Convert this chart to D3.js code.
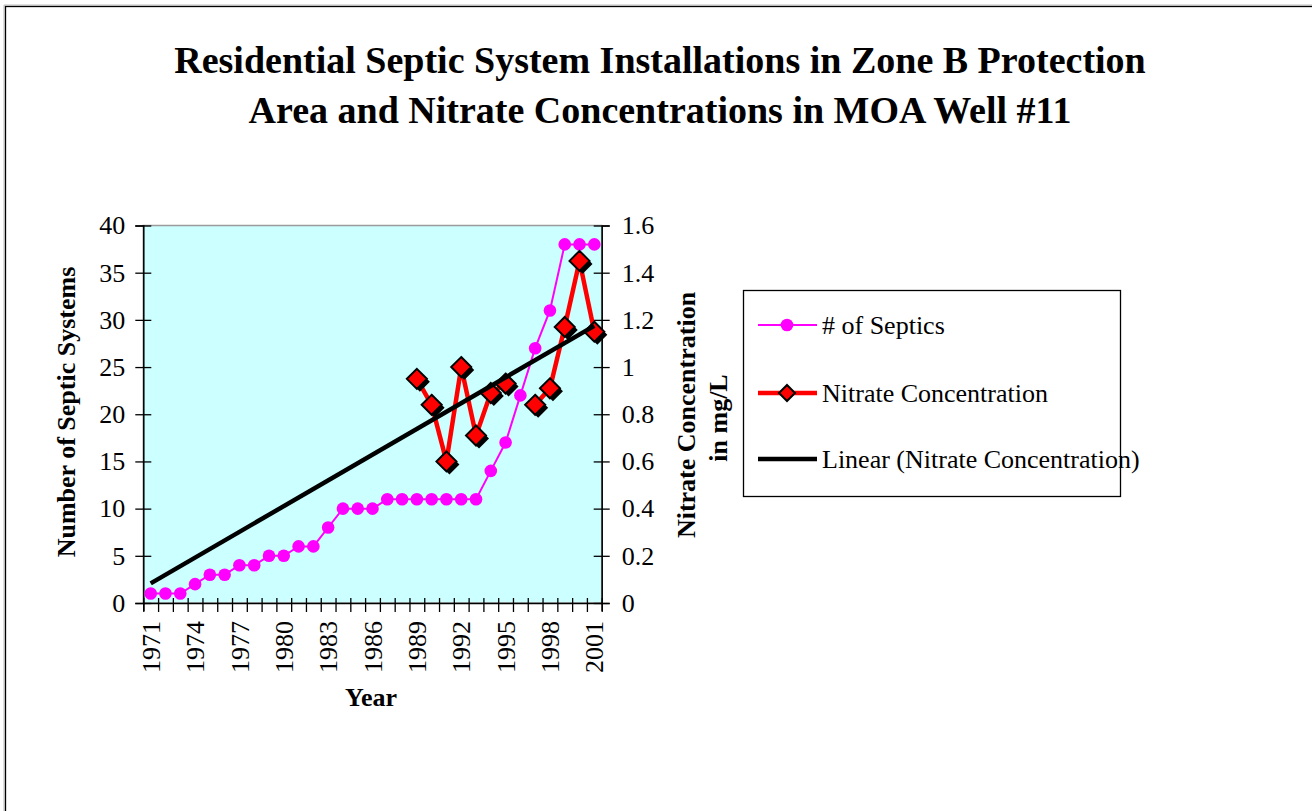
<!DOCTYPE html>
<html>
<head>
<meta charset="utf-8">
<script src="https://cdn.jsdelivr.net/npm/d3@7"></script>
<style>
  html, body { margin: 0; padding: 0; background: #ffffff; }
  svg { display: block; }
  text { font-family: "Liberation Serif", "Times New Roman", serif; fill: #000; }
</style>
</head>
<body>
<svg id="chart" width="1312" height="811"></svg>
<script>
// ---------------- data ----------------
const years = [1971,1972,1973,1974,1975,1976,1977,1978,1979,1980,1981,1982,1983,1984,1985,1986,
               1987,1988,1989,1990,1991,1992,1993,1994,1995,1996,1997,1998,1999,2000,2001];
const septics = [1,1,1,2,3,3,4,4,5,5,6,6,8,10,10,10,11,11,11,11,11,11,11,14,17,22,27,31,38,38,38];
const nitrate = [null,null,null,null,null,null,null,null,null,null,null,null,null,null,null,null,null,null,
                 0.95,0.84,0.60,1.00,0.71,0.89,0.93,null,0.84,0.91,1.17,1.45,1.15];
const yearLabels = [1971,1974,1977,1980,1983,1986,1989,1992,1995,1998,2001];
const leftTicks = [0,5,10,15,20,25,30,35,40];
const rightTicks = [0,0.2,0.4,0.6,0.8,1.0,1.2,1.4,1.6];
const titleLines = ["Residential Septic System Installations in Zone B Protection",
                    "Area and Nitrate Concentrations in MOA Well #11"];
const legendItems = ["# of Septics", "Nitrate Concentration", "Linear (Nitrate Concentration)"];

// ---------------- layout ----------------
const svg = d3.select("#chart");
const plot = {left: 143.3, right: 601.7, top: 225.5, bottom: 603};

// outer chart border
svg.append("line").attr("x1", 4).attr("x2", 4).attr("y1", 5).attr("y2", 811).attr("stroke", "#bbb").attr("stroke-width", 1);
svg.append("line").attr("x1", 4).attr("x2", 1312).attr("y1", 5).attr("y2", 5).attr("stroke", "#bbb").attr("stroke-width", 1);
svg.append("rect").attr("x", 5.5).attr("y", 6.5).attr("width", 1400).attr("height", 900)
   .attr("fill", "none").attr("stroke", "#000").attr("stroke-width", 1.3);

// title
svg.append("g").selectAll("text").data(titleLines).join("text")
   .attr("x", 660).attr("y", (d, i) => 73 + i * 50)
   .attr("text-anchor", "middle").attr("font-size", 38).attr("font-weight", "bold")
   .text(d => d);

const x = d3.scaleBand().domain(years).range([plot.left, plot.right]).padding(0);
const xc = d => x(d) + x.bandwidth() / 2;
const xIdx = d3.scaleLinear().domain([0, years.length]).range([plot.left, plot.right]);
const yL = d3.scaleLinear().domain([0, 40]).range([plot.bottom, plot.top]);
const yR = d3.scaleLinear().domain([0, 1.6]).range([plot.bottom, plot.top]);

// plot area
svg.append("rect").attr("x", plot.left).attr("y", plot.top)
   .attr("width", plot.right - plot.left).attr("height", plot.bottom - plot.top)
   .attr("fill", "#CCFFFF").attr("stroke", "#9a9a9a").attr("stroke-width", 1.5);

// axes
const axL = svg.append("g").attr("transform", `translate(${plot.left},0)`)
   .call(d3.axisLeft(yL).tickValues(leftTicks).tickSize(8).tickPadding(10).tickFormat(d3.format("d")));
const axR = svg.append("g").attr("transform", `translate(${plot.right},0)`)
   .call(d3.axisRight(yR).tickValues(rightTicks).tickSize(8).tickPadding(12)
         .tickFormat(d => d === 0 ? "0" : (d === 1 ? "1" : d3.format(".1f")(d))));
const axB = svg.append("g").attr("transform", `translate(0,${plot.bottom})`)
   .call(d3.axisBottom(xIdx).tickValues(d3.range(0, years.length + 1)).tickSize(8).tickFormat(""));

[axL, axR, axB].forEach(a => {
  a.select(".domain").attr("stroke", "#000").attr("stroke-width", 1.5);
  a.selectAll(".tick line").attr("stroke", "#000").attr("stroke-width", 1.3);
  a.selectAll(".tick text").attr("font-size", 26).attr("font-family", "Liberation Serif");
});
axL.selectAll(".tick line").attr("x2", -8).attr("x1", 8);
axR.selectAll(".tick line").attr("x1", -8).attr("x2", 8);
axB.selectAll(".tick line").attr("y1", -5).attr("y2", 9);

// year labels (rotated)
svg.append("g").selectAll("text").data(yearLabels).join("text")
   .attr("transform", d => `translate(${xc(d)},${plot.bottom + 18}) rotate(-90)`)
   .attr("text-anchor", "end").attr("dy", "0.35em").attr("font-size", 26)
   .text(d => d);

// axis titles
svg.append("text").attr("transform", `translate(75,412) rotate(-90)`)
   .attr("text-anchor", "middle").attr("font-size", 26).attr("font-weight", "bold")
   .text("Number of Septic Systems");
svg.append("text").attr("transform", `translate(695,415) rotate(-90)`)
   .attr("text-anchor", "middle").attr("font-size", 26).attr("font-weight", "bold")
   .text("Nitrate Concentration");
svg.append("text").attr("transform", `translate(727,418) rotate(-90)`)
   .attr("text-anchor", "middle").attr("font-size", 26).attr("font-weight", "bold")
   .text("in mg/L");
svg.append("text").attr("x", 371).attr("y", 706)
   .attr("text-anchor", "middle").attr("font-size", 26).attr("font-weight", "bold")
   .text("Year");

// ---------------- series ----------------
const sepData = years.map((yr, i) => ({yr, v: septics[i]}));
const nitData = years.map((yr, i) => ({yr, i: i + 1, v: nitrate[i]}));

svg.append("path").datum(sepData)
   .attr("fill", "none").attr("stroke", "#FF00FF").attr("stroke-width", 2)
   .attr("d", d3.line().x(d => xc(d.yr)).y(d => yL(d.v)));
svg.append("g").selectAll("circle").data(sepData).join("circle")
   .attr("cx", d => xc(d.yr)).attr("cy", d => yL(d.v)).attr("r", 6.3).attr("fill", "#FF00FF");

svg.append("path").datum(nitData)
   .attr("fill", "none").attr("stroke", "#FF0000").attr("stroke-width", 4.5).attr("stroke-linejoin", "miter")
   .attr("d", d3.line().defined(d => d.v != null).x(d => xc(d.yr)).y(d => yR(d.v)));

const diamond = s => `M0,${-s}L${s},0L0,${s}L${-s},0Z`;
const nitPts = nitData.filter(d => d.v != null);
const dg = svg.append("g");
dg.selectAll("path.shadow").data(nitPts).join("path").attr("class", "shadow")
  .attr("transform", d => `translate(${xc(d.yr) + 3},${yR(d.v) + 3})`)
  .attr("d", diamond(10)).attr("fill", "#000");
dg.selectAll("path.mark").data(nitPts).join("path").attr("class", "mark")
  .attr("transform", d => `translate(${xc(d.yr)},${yR(d.v)})`)
  .attr("d", diamond(10)).attr("fill", "#FF0000").attr("stroke", "#000").attr("stroke-width", 2);

// linear trendline (least squares on category index)
const n = nitPts.length;
const mx = d3.mean(nitPts, d => d.i), my = d3.mean(nitPts, d => d.v);
const slope = d3.sum(nitPts, d => (d.i - mx) * (d.v - my)) / d3.sum(nitPts, d => (d.i - mx) ** 2);
const icpt = my - slope * mx;
const trend = [{yr: years[0], i: 1}, {yr: years[years.length - 1], i: years.length}]
  .map(d => ({yr: d.yr, v: icpt + slope * d.i}));
svg.append("path").datum(trend)
   .attr("fill", "none").attr("stroke", "#000").attr("stroke-width", 4.5)
   .attr("d", d3.line().x(d => xc(d.yr)).y(d => yR(d.v)));

// ---------------- legend ----------------
const lg = svg.append("g");
lg.append("rect").attr("x", 743.5).attr("y", 290.5).attr("width", 377).attr("height", 206)
  .attr("fill", "#fff").attr("stroke", "#000").attr("stroke-width", 1.3);
const rowsY = [325, 393, 459];
legendItems.forEach((t, i) => {
  const y = rowsY[i];
  const color = i === 0 ? "#FF00FF" : (i === 1 ? "#FF0000" : "#000");
  lg.append("line").attr("x1", 758).attr("x2", 817).attr("y1", y).attr("y2", y)
    .attr("stroke", color).attr("stroke-width", i === 0 ? 2 : 4.5);
  if (i === 0) lg.append("circle").attr("cx", 787).attr("cy", y).attr("r", 6.3).attr("fill", "#FF00FF");
  if (i === 1) lg.append("path").attr("transform", `translate(787,${y})`).attr("d", diamond(8))
    .attr("fill", "#FF0000").attr("stroke", "#000").attr("stroke-width", 2);
  lg.append("text").attr("x", 822).attr("y", y + 9).attr("font-size", 26).text(t);
});
</script>
</body>
</html>
